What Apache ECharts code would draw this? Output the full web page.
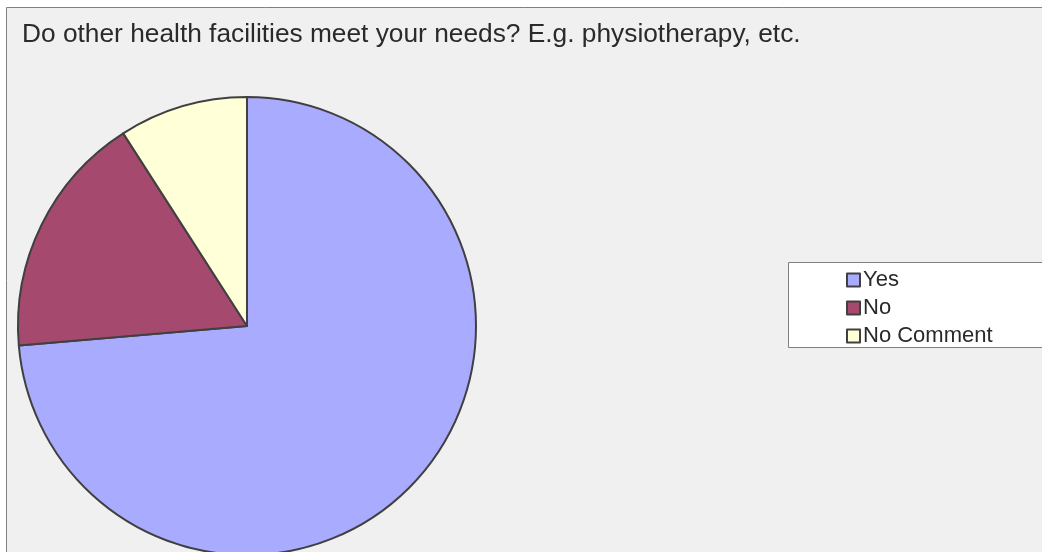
<!DOCTYPE html>
<html>
<head>
<meta charset="utf-8">
<script src="https://cdn.jsdelivr.net/npm/echarts@6/dist/echarts.min.js"></script>
<style>html,body{margin:0;padding:0;background:#fff}#c{width:1042px;height:552px}</style>
</head>
<body>
<div id="c"></div>
<script>
const titleText = 'Do other health facilities meet your needs? E.g. physiotherapy, etc.';
const categories = ['Yes', 'No', 'No Comment'];
const values = [81, 19, 10];
const colors = ['#a9abff', '#a6496f', '#ffffd8'];

const chart = echarts.init(document.getElementById('c'), null, {renderer: 'canvas'});
chart.setOption({
  animation: false,
  backgroundColor: '#ffffff',
  graphic: [
    {type: 'rect', z: -10, shape: {x: 6.5, y: 7.5, width: 1100, height: 600},
     style: {fill: '#f0f0f0', stroke: '#808080', lineWidth: 1}},
    {type: 'rect', z: -5, shape: {x: 788.5, y: 262.5, width: 400, height: 85},
     style: {fill: '#ffffff', stroke: '#808080', lineWidth: 1}}
  ],
  title: {
    text: titleText, left: 17, top: 17,
    textStyle: {fontFamily: 'Liberation Sans, Arial, sans-serif', fontSize: 26.3, fontWeight: 'normal', color: '#2a2a2a'}
  },
  legend: {
    orient: 'vertical', left: 846, top: 269,
    itemWidth: 13, itemHeight: 13, itemGap: 6, icon: 'rect',
    padding: 0,
    itemStyle: {borderColor: '#404040', borderWidth: 2},
    textStyle: {fontFamily: 'Liberation Sans, Arial, sans-serif', fontSize: 22, color: '#2a2a2a', lineHeight: 22, padding: [0,0,0,-2]},
    data: categories
  },
  series: [{
    type: 'pie',
    center: [247, 326],
    radius: 229,
    startAngle: 90,
    clockwise: true,
    label: {show: false},
    labelLine: {show: false},
    emphasis: {disabled: true},
    itemStyle: {borderColor: '#404040', borderWidth: 2},
    data: categories.map((c, i) => ({name: c, value: values[i], itemStyle: {color: colors[i]}}))
  }]
});
</script>
</body>
</html>
